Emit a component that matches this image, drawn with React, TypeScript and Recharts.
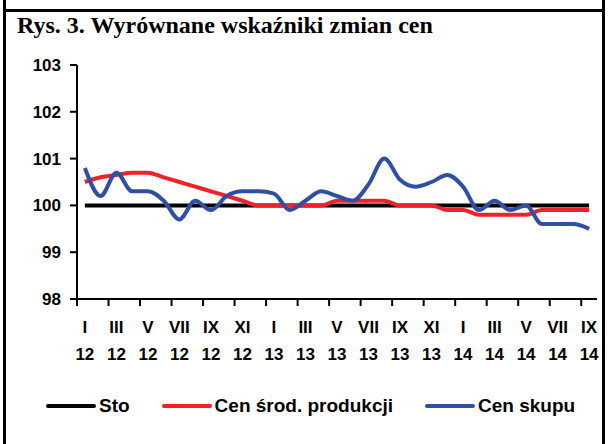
import React from 'react';
import { LineChart, Line, XAxis, YAxis, Legend } from 'recharts';

// months I 2012 .. IX 2014
const MONTHS = [
  'I', 'II', 'III', 'IV', 'V', 'VI', 'VII', 'VIII', 'IX', 'X', 'XI', 'XII',
  'I', 'II', 'III', 'IV', 'V', 'VI', 'VII', 'VIII', 'IX', 'X', 'XI', 'XII',
  'I', 'II', 'III', 'IV', 'V', 'VI', 'VII', 'VIII', 'IX',
];
const YEARS = [
  '12', '12', '12', '12', '12', '12', '12', '12', '12', '12', '12', '12',
  '13', '13', '13', '13', '13', '13', '13', '13', '13', '13', '13', '13',
  '14', '14', '14', '14', '14', '14', '14', '14', '14',
];

const sto = [
  100, 100, 100, 100, 100, 100, 100, 100, 100, 100, 100, 100,
  100, 100, 100, 100, 100, 100, 100, 100, 100, 100, 100, 100,
  100, 100, 100, 100, 100, 100, 100, 100, 100,
];
const cenSrodProdukcji = [
  100.5, 100.6, 100.65, 100.7, 100.7, 100.6, 100.5, 100.4, 100.3, 100.2, 100.1, 100.0,
  100.0, 100.0, 100.0, 100.0, 100.1, 100.1, 100.1, 100.1, 100.0, 100.0, 100.0, 99.9,
  99.9, 99.8, 99.8, 99.8, 99.8, 99.9, 99.9, 99.9, 99.9,
];
const cenSkupu = [
  100.8, 100.2, 100.7, 100.3, 100.3, 100.1, 99.7, 100.1, 99.9, 100.2, 100.3, 100.3,
  100.25, 99.9, 100.1, 100.3, 100.2, 100.1, 100.45, 101.0, 100.55, 100.4, 100.5, 100.65,
  100.4, 99.9, 100.1, 99.9, 100.0, 99.6, 99.6, 99.6, 99.5,
];

const SERIES_NAMES = ['Sto', 'Cen środ. produkcji', 'Cen skupu'];
const Y_TICKS = [98, 99, 100, 101, 102, 103];

const data = MONTHS.map((m, i) => ({
  label: `${m} ${YEARS[i]}`,
  sto: sto[i],
  prod: cenSrodProdukcji[i],
  skup: cenSkupu[i],
}));

const W = 608;
const H = 444;
const MARGIN = { top: 65, right: 11, left: 17, bottom: 26 };
const Y_AXIS_W = 60;
const PLOT_W = W - MARGIN.left - MARGIN.right - Y_AXIS_W;
const BAND = PLOT_W / MONTHS.length;

const SANS = '"Liberation Sans", Arial, sans-serif';

const MonthTick = (props: any) => {
  const { x, y, payload } = props;
  const [m, yr] = String(payload.value).split(' ');
  const tx = x - BAND / 2;
  return (
    <g>
      <line x1={tx} y1={y} x2={tx} y2={y + 7} stroke="#000" strokeWidth={2} />
      <text x={x} y={y + 34} textAnchor="middle" fontFamily={SANS} fontWeight="bold" fontSize={17} fill="#000">
        {m}
      </text>
      <text x={x} y={y + 61} textAnchor="middle" fontFamily={SANS} fontWeight="bold" fontSize={17} fill="#000">
        {yr}
      </text>
    </g>
  );
};

const renderLegend = (props: any) => {
  const items = [...(props.payload || [])].sort(
    (a: any, b: any) => SERIES_NAMES.indexOf(a.value) - SERIES_NAMES.indexOf(b.value)
  );
  return (
    <div
      style={{
        display: 'flex',
        alignItems: 'center',
        height: 24,
        paddingLeft: 46,
        fontFamily: SANS,
        fontWeight: 'bold',
        fontSize: 19,
        color: '#000',
      }}
    >
      {items.map((item: any) => (
        <div key={item.value} style={{ display: 'flex', alignItems: 'center', marginRight: 32 }}>
          <span
            style={{ display: 'inline-block', width: 50, height: 4, background: item.color, borderRadius: 2, marginRight: 3 }}
          />
          <span>{item.value}</span>
        </div>
      ))}
    </div>
  );
};

export default function App() {
  return (
    <div style={{ position: 'absolute', left: 0, top: 0, width: W, height: H, background: '#fff' }}>
      <LineChart width={W} height={H} data={data} margin={MARGIN}>
        <XAxis
          dataKey="label"
          interval={1}
          height={95}
          padding={{ left: BAND / 2, right: BAND / 2 }}
          axisLine={{ stroke: '#000', strokeWidth: 2 }}
          tickLine={false}
          tickSize={0}
          tickMargin={0}
          tick={<MonthTick />}
        />
        <YAxis
          width={Y_AXIS_W}
          domain={[98, 103]}
          ticks={Y_TICKS}
          interval={0}
          axisLine={{ stroke: '#000', strokeWidth: 2 }}
          tickLine={{ stroke: '#000', strokeWidth: 2 }}
          tickSize={7}
          tickMargin={9}
          tick={{ fill: '#000', fontFamily: SANS, fontWeight: 'bold', fontSize: 17 }}
        />
        <Legend verticalAlign="bottom" align="left" content={renderLegend} wrapperStyle={{ left: 0, width: W }} />
        <Line name={SERIES_NAMES[0]} dataKey="sto" stroke="#000000" strokeWidth={4} dot={false} type="linear" isAnimationActive={false} />
        <Line name={SERIES_NAMES[1]} dataKey="prod" stroke="#ee2228" strokeWidth={4} dot={false} type="monotone" isAnimationActive={false} />
        <Line name={SERIES_NAMES[2]} dataKey="skup" stroke="#2f50a2" strokeWidth={4} dot={false} type="monotone" isAnimationActive={false} />
      </LineChart>
      <div style={{ position: 'absolute', left: 3, top: 0, width: 3, height: H, background: '#000' }} />
      <div style={{ position: 'absolute', left: 602, top: 0, width: 3, height: H, background: '#000' }} />
      <div style={{ position: 'absolute', left: 3, top: 9, width: 602, height: 3, background: '#000' }} />
      <div
        style={{
          position: 'absolute',
          left: 17,
          top: 13,
          fontFamily: '"Liberation Serif", "Times New Roman", serif',
          fontWeight: 'bold',
          fontSize: 24,
          lineHeight: '24px',
          whiteSpace: 'nowrap',
          color: '#000',
        }}
      >
        Rys. 3. Wyrównane wskaźniki zmian cen
      </div>
    </div>
  );
}
